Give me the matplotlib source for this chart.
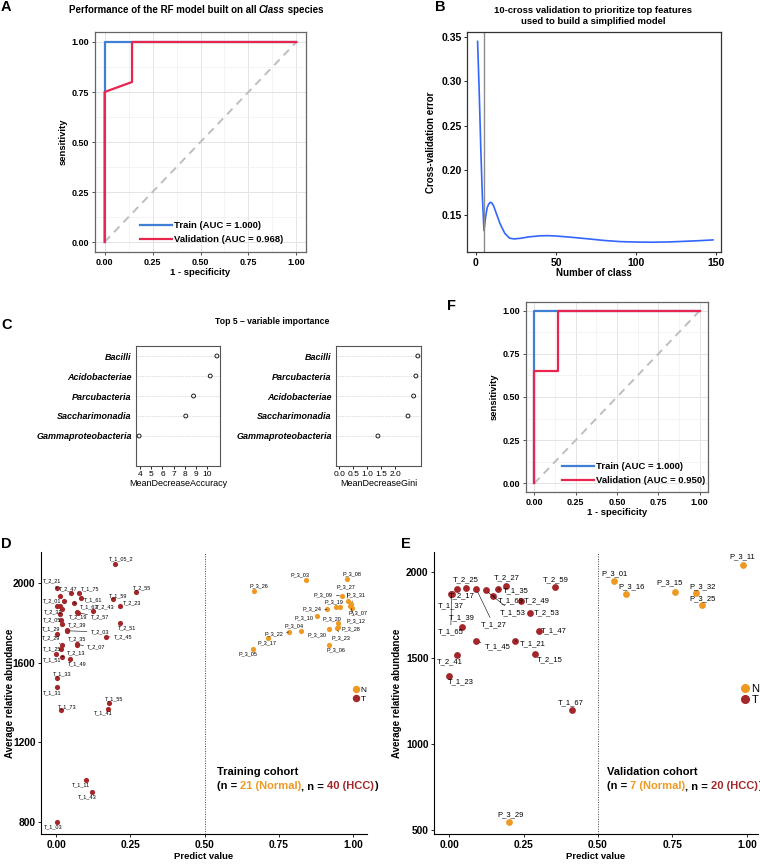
import matplotlib
matplotlib.use('Agg')
import matplotlib.pyplot as plt
import numpy as np
from matplotlib.lines import Line2D
from matplotlib.offsetbox import TextArea, HPacker, VPacker, AnnotationBbox

plt.rcParams['font.family'] = ['Liberation Sans', 'DejaVu Sans']

W, H = 760, 866
BLUE = '#3F7FD4'
RED = '#E8254F'
ORANGE = '#EE9A22'
DARKRED = '#A2262A'

# ---- A / F : ROC curves ----
a_train_fpr = [0, 0, 1]
a_train_tpr = [0, 1, 1]
a_val_fpr = [0, 0, 0.143, 0.143, 1]
a_val_tpr = [0, 0.75, 0.80, 1, 1]
f_train_fpr = [0, 0, 1]
f_train_tpr = [0, 1, 1]
f_val_fpr = [0, 0, 0.143, 0.143, 1]
f_val_tpr = [0, 0.65, 0.65, 1, 1]

# ---- B : cross validation error ----
cv_n = [1, 2, 3, 4, 5, 6, 7, 8, 9, 10, 11, 13, 15, 18, 21, 24, 28, 33, 40, 45,
        50, 60, 70, 80, 90, 100, 110, 120, 130, 140, 148]
cv_err = [0.345, 0.29, 0.225, 0.170, 0.132, 0.147, 0.158, 0.162, 0.164, 0.163,
          0.160, 0.150, 0.140, 0.129, 0.1235, 0.1227, 0.1235, 0.125, 0.1262, 0.1264,
          0.1260, 0.1245, 0.1228, 0.1210, 0.1197, 0.1192, 0.1190, 0.1193, 0.1200,
          0.1208, 0.1216]
cv_best = 5

# ---- C : variable importance (bottom to top) ----
acc_labels = ['Gammaproteobacteria', 'Saccharimonadia', 'Parcubacteria', 'Acidobacteriae', 'Bacilli']
acc_vals = [3.9, 8.1, 8.8, 10.3, 10.9]
gini_labels = ['Gammaproteobacteria', 'Saccharimonadia', 'Acidobacteriae', 'Parcubacteria', 'Bacilli']
gini_vals = [1.38, 2.45, 2.65, 2.73, 2.8]

# ---- D : training cohort ----
d_t_names = ['T_1_05_2', 'T_2_55', 'T_1_59', 'T_2_23', 'T_2_51', 'T_2_45', 'T_2_21', 'T_2_47',
             'T_1_75', 'T_1_61', '', '', 'T_2_01', '', '', 'T_1_63', 'T_2_43', 'T_2_19',
             'T_2_57', 'T_2_31', 'T_2_05', '', 'T_2_39', 'T_2_03', 'T_1_29', 'T_2_35',
             'T_2_07', 'T_2_29', 'T_1_25', 'T_1_51', 'T_2_13', 'T_1_49', 'T_1_33', 'T_1_31',
             'T_1_55', 'T_1_41', 'T_1_73', 'T_1_11', 'T_1_43', 'T_1_03']
d_t_x = [0.199, 0.268, 0.193, 0.215, 0.215, 0.168, 0.004, 0.052, 0.077, 0.083, 0.013, 0.027,
         0.002, 0.013, 0.021, 0.060, 0.123, 0.070, 0.075, 0.013, 0.016, 0.020, 0.036, 0.036,
         0.002, 0.072, 0.072, 0.021, 0.017, 0.000, 0.019, 0.047, 0.004, 0.002, 0.180, 0.176,
         0.017, 0.102, 0.121, 0.002]
d_t_y = [2095, 1956, 1918, 1884, 1797, 1729, 1973, 1951, 1951, 1926, 1935, 1911, 1884, 1884,
         1872, 1901, 1859, 1854, 1850, 1843, 1814, 1794, 1764, 1760, 1745, 1693, 1690, 1687,
         1667, 1642, 1630, 1619, 1524, 1476, 1395, 1368, 1360, 1012, 951, 800]
d_p_names = ['P_3_03', 'P_3_08', 'P_3_26', 'P_3_27', 'P_3_09', 'P_3_31', 'P_3_19', '', 'P_3_24',
             'P_3_07', 'P_3_12', 'P_3_10', 'P_3_20', 'P_3_28', 'P_3_04', 'P_3_30', 'P_3_23',
             'P_3_22', 'P_3_17', 'P_3_06', 'P_3_05']
d_p_x = [0.841, 0.981, 0.667, 0.984, 0.964, 0.992, 0.943, 0.957, 0.912, 0.997, 0.990, 0.878,
         0.948, 0.951, 0.825, 0.920, 0.945, 0.783, 0.715, 0.920, 0.662]
d_p_y = [2015, 2020, 1961, 1910, 1936, 1894, 1878, 1878, 1868, 1875, 1885, 1834, 1797, 1780,
         1760, 1767, 1775, 1754, 1722, 1688, 1668]

# ---- E : validation cohort ----
e_t_names = ['T_1_37', 'T_1_65', 'T_2_25', 'T_2_17', 'T_2_27', 'T_1_35', 'T_2_59', 'T_1_27',
             'T_1_53', 'T_1_69', 'T_2_49', 'T_2_53', 'T_1_39', 'T_1_47', 'T_1_45', 'T_1_21',
             'T_2_41', 'T_2_15', 'T_1_23', 'T_1_67']
e_t_x = [0.006, 0.009, 0.057, 0.028, 0.191, 0.165, 0.355, 0.092, 0.124, 0.148, 0.240, 0.271,
         0.045, 0.303, 0.092, 0.222, 0.027, 0.288, 0.000, 0.414]
e_t_y = [1869, 1872, 1907, 1903, 1917, 1901, 1913, 1898, 1892, 1861, 1830, 1762, 1680, 1657,
         1597, 1599, 1514, 1522, 1395, 1194]
e_p_names = ['P_3_01', 'P_3_16', 'P_3_15', 'P_3_32', 'P_3_25', 'P_3_11', 'P_3_29']
e_p_x = [0.555, 0.595, 0.759, 0.830, 0.850, 0.987, 0.202]
e_p_y = [1948, 1874, 1882, 1878, 1805, 2043, 547]

# label offsets (pixels) -- layout only, mimicking ggrepel placement
d_t_off = [(6, 5), (6, 4), (5, 4), (12, 3), (7, -4), (17, 0), (-5, 8), (-3, 4), (11, 4), (13, -2),
           None, None, (-4, 5), None, None, (15, -4), (13, 4), (1, -5), (22, -4), (-7, 2),
           (-9, 0), None, (10, 5), (33, -1), (-5, 5), (0, 5), (19, -2), (-11, 8), (-9, 0),
           (-4, -6), (15, 4), (7, -5), (5, 4), (-4, -5), (5, 5), (-5, -4), (6, 4), (-5, -5),
           (-5, -5), (-3, -5)]
d_p_off = [(-6, 5), (5, 5), (5, 5), (-2, 14), (-19, 1), (5, 9), (-2, 5), None, (-15, 0), (6, -5),
           (6, -15), (-13, -2), (-6, 5), (12, -2), (-7, 5), (-12, -5), (4, -10), (-15, -2),
           (-1, -4), (7, -5), (-5, -5)]
e_t_off = [(0, -11), (-1, -38), (0, 8), (4, -7), (1, 8), (18, -2), (1, 7), (17, -35), (27, -22),
           (18, -5), (16, 0), (17, 0), (-1, 9), (14, 0), (21, -6), (18, -3), (-7, -6), (15, -6),
           (12, -6), (-2, 8)]
e_p_off = [(0, 7), (5, 7), (-6, 9), (6, 6), (0, 7), (-1, 8), (1, 7)]

fig = plt.figure(figsize=(W / 100, H / 100), dpi=100)


def px_axes(l, t, r, b):
    return fig.add_axes([l / W, 1 - b / H, (r - l) / W, (b - t) / H])


def bold_ticks(ax):
    plt.setp(ax.get_xticklabels(), fontweight='bold')
    plt.setp(ax.get_yticklabels(), fontweight='bold')


def roc_panel(ax, tr_x, tr_y, va_x, va_y, tr_lab, va_lab, anchor):
    ax.set_xlim(-0.05, 1.05)
    ax.set_ylim(-0.05, 1.05)
    ticks = [0, 0.25, 0.5, 0.75, 1]
    ax.set_xticks(ticks)
    ax.set_yticks(ticks)
    ax.set_xticklabels(['%.2f' % t for t in ticks])
    ax.set_yticklabels(['%.2f' % t for t in ticks])
    minor = [0.125, 0.375, 0.625, 0.875]
    ax.set_xticks(minor, minor=True)
    ax.set_yticks(minor, minor=True)
    ax.grid(which='major', color='#E4E4E4', lw=0.7)
    ax.grid(which='minor', color='#F0F0F0', lw=0.5)
    ax.set_axisbelow(True)
    ax.tick_params(which='minor', length=0)
    ax.tick_params(which='major', length=2.5, width=0.6, color='#333333', labelsize=6.5, pad=1.5)
    bold_ticks(ax)
    for s in ax.spines.values():
        s.set_color('#666666')
        s.set_linewidth(0.9)
    ax.plot([0, 1], [0, 1], color='#BEBEBE', lw=1.4, ls=(0, (4, 3)))
    ax.plot(tr_x, tr_y, color=BLUE, lw=1.6, label=tr_lab)
    ax.plot(va_x, va_y, color=RED, lw=1.6, label=va_lab)
    ax.legend(loc='lower left', bbox_to_anchor=anchor, frameon=False,
              prop=dict(weight='bold', size=6.8), handlelength=3.3, handletextpad=0.3,
              labelspacing=0.55, borderpad=0, borderaxespad=0)
    ax.set_xlabel('1 - specificity', fontsize=6.8, fontweight='bold', labelpad=1)
    ax.set_ylabel('sensitivity', fontsize=6.8, fontweight='bold', labelpad=3)


def dot_panel(ax, labels, vals, xmin, xticks, xlabel):
    rows = np.arange(1, len(vals) + 1)
    span = max(vals) - xmin
    ax.set_xlim(xmin - 0.04 * span, max(vals) + 0.04 * span)
    ax.set_ylim(0.5 - 1, len(vals) + 0.5)
    ax.hlines(rows, *ax.get_xlim(), colors='#BBBBBB', linestyles=(0, (1, 1.5)), lw=0.5)
    ax.scatter(vals, rows, s=8, facecolors='none', edgecolors='black', lw=0.6, zorder=3)
    ax.set_yticks(rows)
    ax.set_yticklabels(labels, fontstyle='italic', fontweight='bold', fontsize=6.5)
    ax.tick_params(axis='y', length=0, pad=3)
    ax.set_xticks(xticks)
    ax.set_xticklabels([('%g' % t) if t != int(t) or xmin > 0 else '%.1f' % t for t in xticks])
    ax.tick_params(axis='x', length=2.5, width=0.6, labelsize=6, pad=1)
    ax.set_xlabel(xlabel, fontsize=6.5, labelpad=1)
    for s in ax.spines.values():
        s.set_color('#555555')
        s.set_linewidth(0.8)


def label_points(ax, names, xs, ys, offs, size, lim):
    for name, x, y, off in zip(names, xs, ys, offs):
        if not name or off is None:
            continue
        dx, dy = off
        far = abs(dx) > lim[0] or abs(dy) > lim[1]
        ax.annotate(name, (x, y), xytext=(dx, dy), textcoords='offset pixels',
                    ha='center', va='center', fontsize=size, annotation_clip=False,
                    arrowprops=dict(arrowstyle='-', lw=0.4, color='black', shrinkA=0.5,
                                    shrinkB=2) if far else None, zorder=4)


def cohort_panel(ax, t_names, t_x, t_y, t_off, p_names, p_x, p_y, p_off, xlim, ylim, yticks,
                 dot_s, lab_size, lim, leg_size, leg_anchor, title, n_norm, n_hcc, txt_xy,
                 ylab_x):
    ax.set_xlim(*xlim)
    ax.set_ylim(*ylim)
    ax.axvline(0.5, ls=(0, (1, 1.5)), color='#444444', lw=0.7)
    ax.scatter(p_x, p_y, s=dot_s, color=ORANGE, zorder=3, lw=0)
    ax.scatter(t_x, t_y, s=dot_s, color=DARKRED, zorder=3, lw=0)
    label_points(ax, t_names, t_x, t_y, t_off, lab_size, lim)
    label_points(ax, p_names, p_x, p_y, p_off, lab_size, lim)
    ax.set_xticks([0, 0.25, 0.5, 0.75, 1])
    ax.set_xticklabels(['0.00', '0.25', '0.50', '0.75', '1.00'])
    ax.set_yticks(yticks)
    ax.tick_params(length=2.5, width=0.6, labelsize=7.4, pad=1.5)
    bold_ticks(ax)
    for s in ['top', 'right']:
        ax.spines[s].set_visible(False)
    for s in ['left', 'bottom']:
        ax.spines[s].set_linewidth(0.8)
    ax.set_xlabel('Predict value', fontsize=6.8, fontweight='bold', labelpad=2)
    ax.set_ylabel('Average relative abundance', fontsize=7, fontweight='bold')
    ax.yaxis.set_label_coords(ylab_x, 0.5)
    ms = np.sqrt(dot_s) + 0.6
    handles = [Line2D([], [], ls='none', marker='o', ms=ms, color=ORANGE, label='N'),
               Line2D([], [], ls='none', marker='o', ms=ms, color=DARKRED, label='T')]
    ax.legend(handles=handles, loc='center left', bbox_to_anchor=leg_anchor, frameon=False,
              fontsize=leg_size, handlelength=0.8, handletextpad=0.2, labelspacing=0.1,
              borderpad=0, borderaxespad=0)
    tp = dict(fontweight='bold', fontsize=8)
    line1 = TextArea(title, textprops=tp)
    line2 = HPacker(children=[TextArea('(n = ', textprops=tp),
                              TextArea('%d (Normal)' % n_norm, textprops=dict(color=ORANGE, **tp)),
                              TextArea(', n = ', textprops=tp),
                              TextArea('%d (HCC)' % n_hcc, textprops=dict(color=DARKRED, **tp)),
                              TextArea(')', textprops=tp)], pad=0, sep=0)
    box = VPacker(children=[line1, line2], align='left', pad=0, sep=3)
    ax.add_artist(AnnotationBbox(box, txt_xy, xycoords='data', box_alignment=(0, 0.5),
                                 frameon=False, pad=0, annotation_clip=False))


# ---- panel A ----
axA = px_axes(95, 32, 306, 252)
roc_panel(axA, a_train_fpr, a_train_tpr, a_val_fpr, a_val_tpr,
          'Train (AUC = 1.000)', 'Validation (AUC = 0.968)', (0.215, 0.035))
title_a = HPacker(children=[TextArea('Performance of the RF model built on all ',
                                     textprops=dict(fontweight='bold', fontsize=7)),
                            TextArea('Class', textprops=dict(fontweight='bold', fontstyle='italic', fontsize=7)),
                            TextArea(' species', textprops=dict(fontweight='bold', fontsize=7))],
                  pad=0, sep=0)
fig.add_artist(AnnotationBbox(title_a, (196 / W, 1 - 10 / H), xycoords='figure fraction',
                              box_alignment=(0.5, 0.5), frameon=False, pad=0))

# ---- panel B ----
axB = px_axes(467, 32, 721, 252)
axB.plot(cv_n, cv_err, color='#3366FF', lw=1.2)
axB.axvline(cv_best, color='#8C8C8C', lw=1)
axB.set_xlim(-5.6, 153)
axB.set_ylim(0.108, 0.3556)
axB.set_xticks([0, 50, 100, 150])
axB.set_yticks([0.15, 0.20, 0.25, 0.30, 0.35])
axB.set_yticklabels(['0.15', '0.20', '0.25', '0.30', '0.35'])
axB.tick_params(length=2.5, width=0.6, labelsize=7.5, pad=1.5)
bold_ticks(axB)
for s in axB.spines.values():
    s.set_color('#333333')
    s.set_linewidth(0.9)
axB.set_xlabel('Number of class', fontsize=7, fontweight='bold', labelpad=0)
axB.set_ylabel('Cross-validation error', fontsize=7, fontweight='bold', labelpad=4)
fig.text(593 / W, 1 - 16 / H, '10-cross validation to prioritize top features\nused to build a simplified model',
         ha='center', va='center', fontsize=6.8, fontweight='bold', linespacing=1.25)

# ---- panel C ----
axC1 = px_axes(136, 346, 220, 466)
dot_panel(axC1, acc_labels, acc_vals, min(acc_vals), [4, 5, 6, 7, 8, 9, 10], 'MeanDecreaseAccuracy')
axC2 = px_axes(336, 346, 421, 466)
dot_panel(axC2, gini_labels, gini_vals, 0, [0, 0.5, 1.0, 1.5, 2.0], 'MeanDecreaseGini')
fig.text(272 / W, 1 - 321 / H, 'Top 5 \u2013 variable importance', ha='center', va='center',
         fontsize=6.2, fontweight='bold')

# ---- panel F ----
axF = px_axes(526, 302, 708, 492)
roc_panel(axF, f_train_fpr, f_train_tpr, f_val_fpr, f_val_tpr,
          'Train (AUC = 1.000)', 'Validation (AUC = 0.950)', (0.2, 0.035))

# ---- panel D ----
axD = px_axes(41, 552, 367, 834)
cohort_panel(axD, d_t_names, d_t_x, d_t_y, d_t_off, d_p_names, d_p_x, d_p_y, d_p_off,
             (-0.0505, 1.047), (739, 2156), [800, 1200, 1600, 2000], 14, 4, (14, 7), 6,
             (0.955, 0.495), 'Training cohort', 21, 40, (0.541, 1015), -0.08)

# ---- panel E ----
axE = px_axes(434, 552, 758, 834)
cohort_panel(axE, e_t_names, e_t_x, e_t_y, e_t_off, e_p_names, e_p_x, e_p_y, e_p_off,
             (-0.0504, 1.037), (475, 2116), [500, 1000, 1500, 2000], 24, 5.5, (17, 9), 8,
             (0.945, 0.495), 'Validation cohort', 7, 20, (0.529, 795), -0.099)

# ---- panel letters ----
for letter, x, y in [('A', 6, 7), ('B', 440, 7), ('C', 7, 325), ('F', 452, 306),
                     ('D', 6, 544), ('E', 406, 544)]:
    fig.text(x / W, 1 - y / H, letter, ha='center', va='center', fontsize=10.5, fontweight='bold')

fig.savefig('out.png', dpi=100)
